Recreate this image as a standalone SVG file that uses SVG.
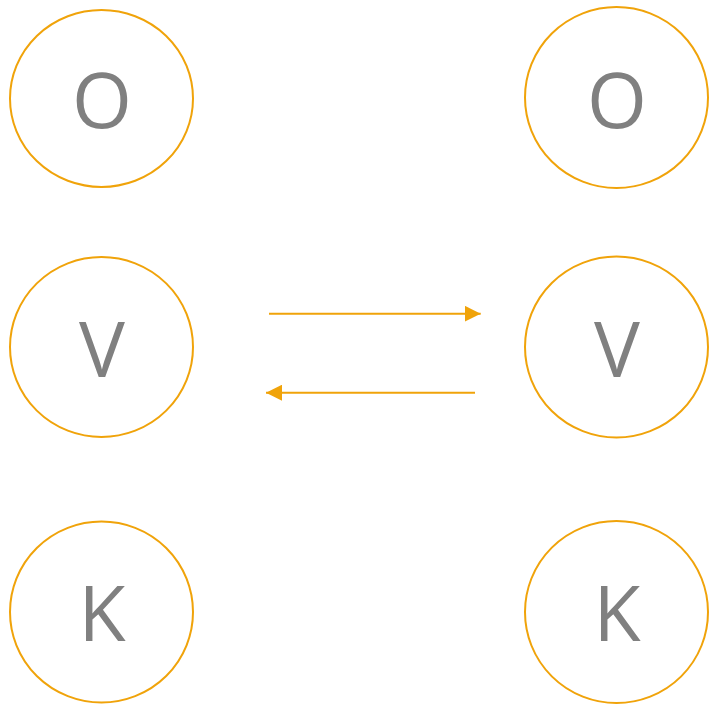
<svg xmlns="http://www.w3.org/2000/svg" width="709" height="704" viewBox="0 0 709 704">
<style>
.node{fill:#ffffff;stroke:#f0a30a;stroke-width:2}
.lbl{font-family:"Open Sans","Noto Sans",sans-serif;font-size:77px;fill:#808080;text-anchor:middle}
.edge{stroke:#f0a30a;stroke-width:2;fill:none}
</style>
<defs>
<marker id="ah" viewBox="0 0 16 16" refX="16" refY="8" markerWidth="16" markerHeight="16" markerUnits="userSpaceOnUse" orient="auto">
<path d="M0,0 L16,8 L0,16 Z" fill="#f0a30a"/>
</marker>
</defs>
<rect width="709" height="704" fill="#ffffff"/>
<g id="node-o-left"><ellipse class="node" cx="101.5" cy="98.5" rx="91.5" ry="88.5"/><text class="lbl" x="102" y="127.5">O</text></g>
<g id="node-v-left"><ellipse class="node" cx="101.5" cy="347" rx="91.5" ry="90"/><text class="lbl" x="102" y="376.5">V</text></g>
<g id="node-k-left"><ellipse class="node" cx="101.5" cy="612" rx="91.5" ry="90.5"/><text class="lbl" x="102" y="640.5">K</text></g>
<g id="node-o-right"><ellipse class="node" cx="616.5" cy="97.5" rx="91.5" ry="90.5"/><text class="lbl" x="617" y="127.5">O</text></g>
<g id="node-v-right"><ellipse class="node" cx="616.5" cy="347" rx="91.5" ry="90.5"/><text class="lbl" x="617" y="376.5">V</text></g>
<g id="node-k-right"><ellipse class="node" cx="616.5" cy="612" rx="91.5" ry="91"/><text class="lbl" x="617" y="640.5">K</text></g>
<g id="connectors">
<line class="edge" x1="269" y1="313.7" x2="480.7" y2="313.7" marker-end="url(#ah)"/>
<line class="edge" x1="475" y1="392.7" x2="266" y2="392.7" marker-end="url(#ah)"/>
</g>
</svg>
